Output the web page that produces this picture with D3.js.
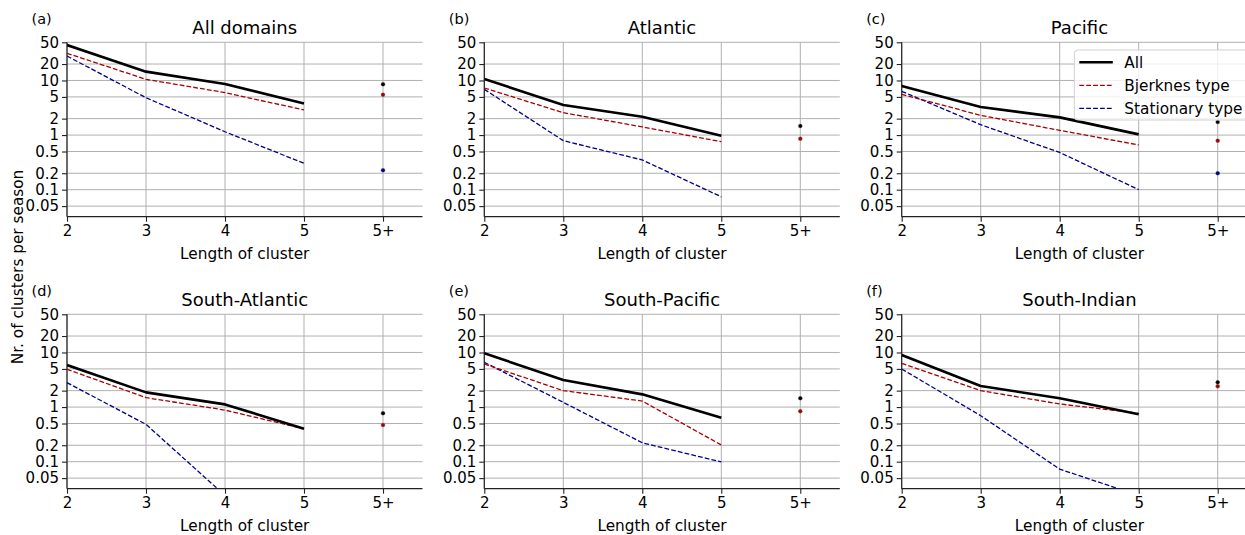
<!DOCTYPE html>
<html>
<head>
<meta charset="utf-8">
<script src="https://cdn.jsdelivr.net/npm/d3@7"></script>
<style>
  html, body { margin: 0; padding: 0; background: #fff; }
  svg { display: block; }
  text { font-family: "DejaVu Sans", sans-serif; fill: #000; }
</style>
</head>
<body>
<svg id="chart" width="1245" height="535"></svg>
<script>
// ---------------- data ----------------
const panelTitles = ["All domains", "Atlantic", "Pacific", "South-Atlantic", "South-Pacific", "South-Indian"];
const panelLabels = ["(a)", "(b)", "(c)", "(d)", "(e)", "(f)"];
const lengths = [2, 3, 4, 5];
const plusPosition = 6;
const xTickValues = [2, 3, 4, 5, 6];
const xTickLabels = ["2", "3", "4", "5", "5+"];
const yTickValues = [0.05, 0.1, 0.2, 0.5, 1, 2, 5, 10, 20, 50];
const yTickLabels = ["0.05", "0.1", "0.2", "0.5", "1", "2", "5", "10", "20", "50"];
const seriesNames = ["All", "Bjerknes type", "Stationary type"];

const allValues = [
  [44.6, 14.5, 8.6, 3.8],
  [10.65, 3.55, 2.17, 0.975],
  [7.9, 3.27, 2.11, 1.03],
  [5.89, 1.86, 1.12, 0.40],
  [9.66, 3.13, 1.71, 0.64],
  [9.0, 2.43, 1.45, 0.74]
];
const bjerknesValues = [
  [31.5, 10.5, 6.0, 2.88],
  [7.28, 2.57, 1.41, 0.757],
  [5.58, 2.30, 1.22, 0.66],
  [4.92, 1.49, 0.88, 0.40],
  [6.15, 2.0, 1.29, 0.202],
  [6.33, 2.0, 1.14, 0.77]
];
const stationaryValues = [
  [28, 4.83, 1.15, 0.304],
  [6.89, 0.79, 0.35, 0.074],
  [6.33, 1.55, 0.48, 0.10],
  [2.8, 0.483, 0.024, null],
  [6.6, 1.22, 0.222, 0.099],
  [4.99, 0.695, 0.073, 0.024]
];
const allPlus = [8.5, 1.47, 1.73, 0.77, 1.45, 2.84];
const bjerknesPlus = [5.5, 0.86, 0.79, 0.47, 0.84, 2.4];
const stationaryPlus = [0.226, null, 0.20, null, null, null];

// ---------------- layout ----------------
const svg = d3.select("#chart");
const colLefts = [67, 484.3, 901.7];
const rowTops = [42.3, 314.3];
const plotW = 355.5;
const plotH = 174.4;
const yDomain = [0.032, 50];
const xDomain = [2, 6.5];

const styles = [
  { color: "#000000", width: 2.6, dash: null },
  { color: "#a80000", width: 1.3, dash: "4.8,2.1" },
  { color: "#00008b", width: 1.3, dash: "4.8,2.1" }
];
const gridColor = "#b0b0b0";

const defs = svg.append("defs");

panelTitles.forEach((title, i) => {
  const col = i % 3, row = Math.floor(i / 3);
  const left = colLefts[col], top = rowTops[row];
  const x = d3.scaleLinear().domain(xDomain).range([left, left + plotW]);
  const y = d3.scaleLog().domain(yDomain).range([top + plotH, top]);

  const g = svg.append("g");
  defs.append("clipPath").attr("id", "clip" + i)
    .append("rect").attr("x", left).attr("y", top - 3).attr("width", plotW).attr("height", plotH + 3);

  // grid
  g.append("g").selectAll("line").data(yTickValues).join("line")
    .attr("x1", left).attr("x2", left + plotW)
    .attr("y1", d => y(d)).attr("y2", d => y(d))
    .attr("stroke", gridColor).attr("stroke-width", 1);
  g.append("g").selectAll("line").data(xTickValues).join("line")
    .attr("x1", d => x(d)).attr("x2", d => x(d))
    .attr("y1", top).attr("y2", top + plotH)
    .attr("stroke", gridColor).attr("stroke-width", 1);

  // axes
  const yAxis = d3.axisLeft(y).tickValues(yTickValues)
    .tickFormat((d, k) => yTickLabels[k]).tickSize(5).tickPadding(3);
  const ya = g.append("g").attr("transform", `translate(${left},0)`).call(yAxis);
  const xAxis = d3.axisBottom(x).tickValues(xTickValues)
    .tickFormat((d, k) => xTickLabels[k]).tickSize(5).tickPadding(3.5);
  const xa = g.append("g").attr("transform", `translate(0,${top + plotH})`).call(xAxis);
  [ya, xa].forEach(a => {
    a.select(".domain").attr("stroke", "#222").attr("stroke-width", 1.2);
    a.selectAll(".tick line").attr("stroke", "#222").attr("stroke-width", 1.1);
    a.selectAll(".tick text").attr("font-size", 15).attr("font-family", "DejaVu Sans").attr("fill", "#000");
  });
  xa.select(".domain").attr("d", `M${left},0H${left + plotW}`);
  ya.select(".domain").attr("d", `M0,${top}V${top + plotH}`);

  // lines
  const series = [allValues[i], bjerknesValues[i], stationaryValues[i]];
  const line = d3.line()
    .defined(d => d.v !== null && d.v > 0)
    .x(d => x(d.len)).y(d => y(d.v));
  const lg = g.append("g").attr("clip-path", `url(#clip${i})`);
  [2, 1, 0].forEach(s => {
    const pts = lengths.map((len, k) => ({ len: len, v: series[s][k] }));
    lg.append("path").datum(pts)
      .attr("d", line)
      .attr("fill", "none")
      .attr("stroke", styles[s].color)
      .attr("stroke-width", styles[s].width)
      .attr("stroke-dasharray", styles[s].dash)
      .attr("stroke-linejoin", "round");
  });

  // 5+ points
  const plus = [allPlus[i], bjerknesPlus[i], stationaryPlus[i]];
  plus.forEach((v, s) => {
    if (v === null) return;
    lg.append("circle")
      .attr("cx", x(plusPosition)).attr("cy", y(v)).attr("r", 2)
      .attr("fill", styles[s].color)
      .attr("stroke", "#777").attr("stroke-opacity", 0.6).attr("stroke-width", 0.6);
  });

  // titles
  svg.append("text").attr("x", left + plotW / 2).attr("y", top - 8.5)
    .attr("text-anchor", "middle").attr("font-size", 18).text(title);
  svg.append("text").attr("x", left - 35.5).attr("y", top - 18.5)
    .attr("font-size", 14.5).text(panelLabels[i]);
  svg.append("text").attr("x", left + plotW / 2).attr("y", top + plotH + 42)
    .attr("text-anchor", "middle").attr("font-size", 15.3).text("Length of cluster");

  // legend in panel (c)
  if (i === 2) {
    const lx = 1074.3, ly = 50;
    const leg = svg.append("g");
    leg.append("rect").attr("x", lx).attr("y", ly).attr("width", 176).attr("height", 70)
      .attr("rx", 3.5).attr("fill", "#fff").attr("fill-opacity", 0.8)
      .attr("stroke", "#d0d0d0").attr("stroke-width", 1);
    const rowsY = [62.3, 85.3, 108.3];
    seriesNames.forEach((name, s) => {
      leg.append("line").attr("x1", lx + 5).attr("x2", lx + 38.5)
        .attr("y1", rowsY[s]).attr("y2", rowsY[s])
        .attr("stroke", styles[s].color).attr("stroke-width", styles[s].width)
        .attr("stroke-dasharray", styles[s].dash);
      leg.append("text").attr("x", lx + 50).attr("y", rowsY[s] + 5.5)
        .attr("font-size", 15.3).text(name);
    });
  }
});

// shared y label
svg.append("text")
  .attr("transform", "translate(23,267) rotate(-90)")
  .attr("text-anchor", "middle").attr("font-size", 15.3)
  .text("Nr. of clusters per season");
</script>
</body>
</html>
